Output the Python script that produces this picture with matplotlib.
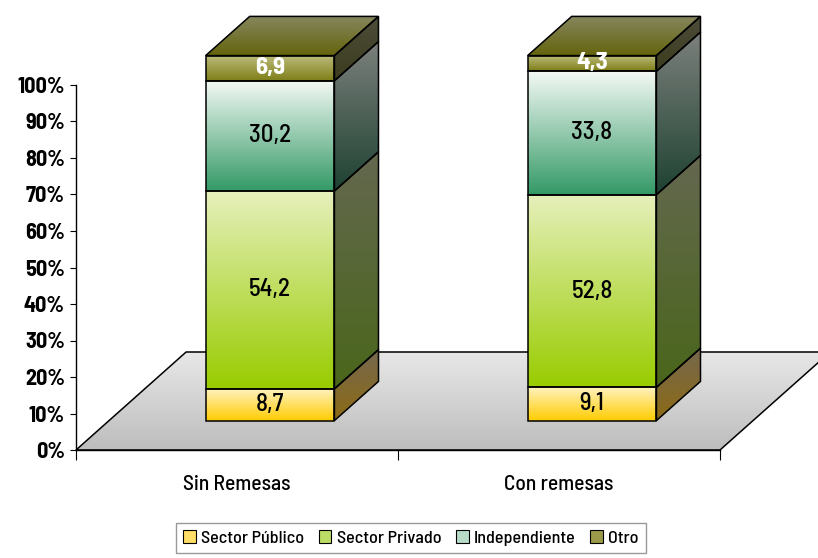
import numpy as np
import matplotlib.pyplot as plt
from matplotlib.patches import Polygon, Patch
from matplotlib.colors import LinearSegmentedColormap

# Employment sector shares by remittance status (percent)
categories = ['Sin Remesas', 'Con remesas']
series_names = ['Sector Público', 'Sector Privado', 'Independiente', 'Otro']
sector_publico = [8.7, 9.1]
sector_privado = [54.2, 52.8]
independiente = [30.2, 33.8]
otro = [6.9, 4.3]
y_ticks = [0, 10, 20, 30, 40, 50, 60, 70, 80, 90, 100]

values = [sector_publico, sector_privado, independiente, otro]

# (top, bottom) gradient colours for front and side faces
front_colors = [('#FFF2BE', '#FFCC00'), ('#E6F0BC', '#99CC00'),
                ('#F4F9F5', '#339966'), ('#BCBC7C', '#7E7E18')]
side_colors = [('#76684E', '#8C6A14'), ('#646850', '#4A661A'),
               ('#7C807C', '#1E4232'), ('#4C4C3A', '#3C3C1E')]
top_colors = ('#86865E', '#64640C')
legend_colors = ['#FFDD66', '#BBDD66', '#B8DCC8', '#9A9A4A']
label_colors = ['black', 'black', 'black', 'white']

plt.rcParams['font.family'] = ['Barlow Semi Condensed', 'DejaVu Sans']

fig = plt.figure(figsize=(8.18, 5.58), dpi=100)
ax = fig.add_axes([76 / 818, 108 / 558, 644 / 818, 365 / 558])
ax.set_autoscale_on(False)
ax.set_xlim(0, 2)
ax.set_ylim(0, 100)

depth_x, depth_y = 0.342, 26.85   # floor depth in data units
bar_front, bar_back = 0.30, 0.70  # bar placement inside the floor depth
bar_width = 0.4


def gradient_fill(verts, c_top, c_bottom, zorder):
    verts = np.asarray(verts, dtype=float)
    poly = Polygon(verts, closed=True, facecolor='none', edgecolor='black',
                   lw=1.1, zorder=zorder + 0.1, clip_on=False)
    ax.add_patch(poly)
    cmap = LinearSegmentedColormap.from_list('grad', [c_bottom, c_top])
    x0, x1 = verts[:, 0].min(), verts[:, 0].max()
    y0, y1 = verts[:, 1].min(), verts[:, 1].max()
    grad = np.linspace(0, 1, 256).reshape(-1, 1)
    im = ax.imshow(grad, cmap=cmap, origin='lower', extent=(x0, x1, y0, y1),
                   aspect='auto', interpolation='bilinear', zorder=zorder)
    im.set_clip_box(fig.bbox)
    im.set_clip_path(poly)


# floor
floor = [(0, 0), (2, 0), (2 + depth_x, depth_y), (depth_x, depth_y)]
gradient_fill(floor, '#E8E8E8', '#BDBDBD', 1)

ddx = (bar_back - bar_front) * depth_x
ddy = (bar_back - bar_front) * depth_y
for i, cat in enumerate(categories):
    x_left = i + 0.5 - bar_width / 2 + bar_front * depth_x
    x_right = x_left + bar_width
    base = bar_front * depth_y
    bottom = 0.0
    for s in range(len(series_names)):
        v = values[s][i]
        y0 = base + bottom
        y1 = y0 + v
        front = [(x_left, y0), (x_right, y0), (x_right, y1), (x_left, y1)]
        side = [(x_right, y0), (x_right + ddx, y0 + ddy),
                (x_right + ddx, y1 + ddy), (x_right, y1)]
        gradient_fill(front, *front_colors[s], 3)
        gradient_fill(side, *side_colors[s], 3)
        weight = 'bold' if s == 3 else 'medium'
        ax.text((x_left + x_right) / 2, (y0 + y1) / 2, f'{v:.1f}'.replace('.', ','),
                ha='center', va='center', fontsize=18, color=label_colors[s],
                fontweight=weight, zorder=5, clip_on=False)
        bottom += v
    y_top = base + bottom
    top = [(x_left, y_top), (x_right, y_top),
           (x_right + ddx, y_top + ddy), (x_left + ddx, y_top + ddy)]
    gradient_fill(top, *top_colors, 3)

# axes styling
for side in ['top', 'right']:
    ax.spines[side].set_visible(False)
ax.spines['left'].set_linewidth(1)
ax.spines['bottom'].set_linewidth(1)
ax.spines['bottom'].set_zorder(2)
ax.set_yticks(y_ticks)
ax.set_yticklabels([f'{t}%' for t in y_ticks], fontsize=16, fontweight='bold')
ax.tick_params(axis='y', direction='out', length=4, pad=4)
ax.set_xticks([0, 1, 2])
ax.set_xticklabels([])
ax.tick_params(axis='x', which='major', direction='out', length=7)
ax.set_xticks([0.5, 1.5], minor=True)
ax.set_xticklabels(categories, minor=True, fontsize=15.5, fontweight='medium')
ax.tick_params(axis='x', which='minor', length=0, pad=18)

handles = [Patch(facecolor=c, edgecolor='black', lw=0.8) for c in legend_colors]
fig.legend(handles, series_names, loc='upper center', bbox_to_anchor=(411 / 818, 35 / 558),
           ncol=4, prop={'size': 13, 'weight': 'medium'}, frameon=True, fancybox=False,
           edgecolor='#808080', handlelength=0.7, handleheight=0.7, handletextpad=0.3,
           columnspacing=0.8, borderpad=0.4, borderaxespad=0)

fig.savefig('out.png', dpi=100)
